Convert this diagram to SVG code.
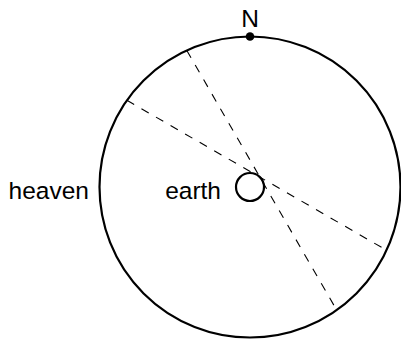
<svg xmlns="http://www.w3.org/2000/svg" width="401" height="340" viewBox="0 0 401 340">
<style>
.lbl{font-family:"Liberation Sans",Arial,sans-serif;font-size:24.5px;fill:#000}
.thick{fill:none;stroke:#000;stroke-width:2.2}
.dash{fill:none;stroke:#000;stroke-width:1.1;stroke-dasharray:8.4 8.4}
</style>
<rect width="401" height="340" fill="#fff"/>
<g id="heaven">
<circle class="thick" cx="250" cy="187" r="150.5"/>
<text class="lbl" x="89" y="199" text-anchor="end">heaven</text>
</g>
<g id="north">
<circle cx="250" cy="36.5" r="4.3" fill="#000"/>
<text class="lbl" x="250" y="27" text-anchor="middle">N</text>
</g>
<g id="earth">
<circle class="thick" cx="250" cy="187" r="14"/>
<text class="lbl" x="221" y="199" text-anchor="end">earth</text>
</g>
<g id="connectors">
<line class="dash" x1="186.8" y1="50.5" x2="336.7" y2="310.1"/>
<line class="dash" x1="126.9" y1="100.3" x2="386.5" y2="250.2"/>
</g>
</svg>
